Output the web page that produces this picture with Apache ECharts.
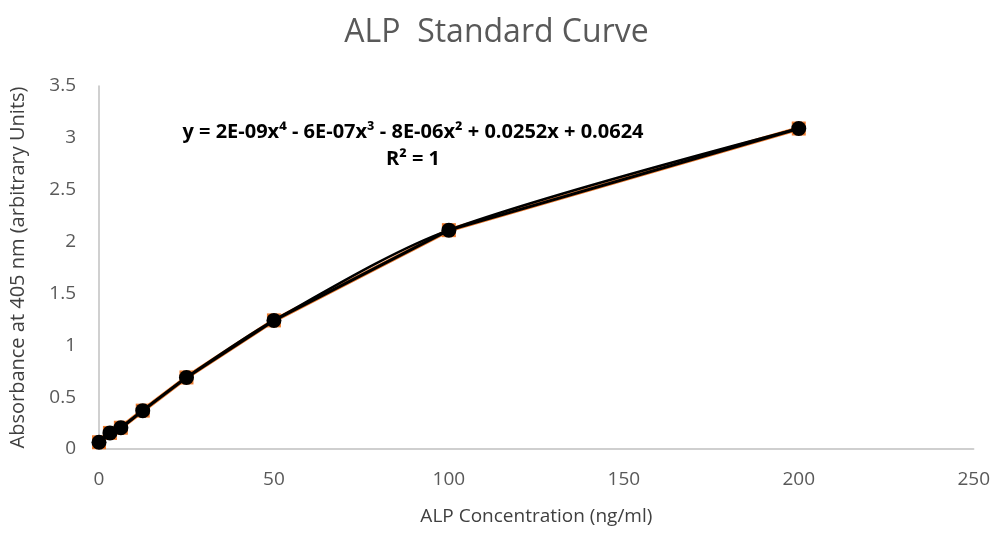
<!DOCTYPE html>
<html>
<head>
<meta charset="utf-8">
<script src="https://cdn.jsdelivr.net/npm/echarts@6/dist/echarts.min.js"></script>
<style>html,body{margin:0;padding:0;background:#fff}#c{width:993px;height:533px}</style>
</head>
<body>
<div id="c"></div>
<script>
const concentrations = [0, 3.125, 6.25, 12.5, 25, 50, 100, 200];
const absorbance = [0.065, 0.155, 0.205, 0.37, 0.69, 1.24, 2.11, 3.09];
const xTicks = [0, 50, 100, 150, 200, 250];
const yTicks = [0, 0.5, 1, 1.5, 2, 2.5, 3, 3.5];
const equationText = 'y = 2E-09x⁴ - 6E-07x³ - 8E-06x² + 0.0252x + 0.0624';
const r2Text = 'R² = 1';

const pts = concentrations.map((x, i) => [x, absorbance[i]]);
const chart = echarts.init(document.getElementById('c'));
const font = '"Open Sans", "Liberation Sans", sans-serif';
chart.setOption({
  animation: false,
  title: {
    text: 'ALP  Standard Curve',
    left: 'center',
    top: 12,
    textStyle: {fontFamily: font, fontSize: 32, fontWeight: 'normal', color: '#595959'}
  },
  grid: {left: 97, right: 19, top: 86, bottom: 84},
  xAxis: {
    type: 'value', min: 0, max: 250, interval: 50,
    name: 'ALP Concentration (ng/ml)', nameLocation: 'middle', nameGap: 58,
    nameTextStyle: {fontFamily: font, fontSize: 19, color: '#404040'},
    axisLine: {show: true, lineStyle: {color: '#c0c0c0', width: 1.5}},
    axisTick: {show: false},
    splitLine: {show: false},
    axisLabel: {fontFamily: font, fontSize: 19, color: '#595959', margin: 21}
  },
  yAxis: {
    type: 'value', min: 0, max: 3.5, interval: 0.5,
    name: 'Absorbance at 405 nm (arbitrary Units)', nameLocation: 'middle', nameGap: 71,
    nameTextStyle: {fontFamily: font, fontSize: 20, color: '#404040'},
    axisLine: {show: true, lineStyle: {color: '#c0c0c0', width: 1.5}},
    axisTick: {show: false},
    splitLine: {show: false},
    axisLabel: {fontFamily: font, fontSize: 19, color: '#595959', margin: 23}
  },
  graphic: [{
    type: 'text', x: 413, y: 119,
    style: {text: equationText + '\n' + r2Text, textAlign: 'center',
      fontFamily: 'Open Sans', fontSize: 20, fontWeight: 'bold', fill: '#000', lineHeight: 27}
  }],
  series: [
    {type: 'line', data: pts, symbol: 'rect', symbolSize: 14,
     itemStyle: {color: '#ED7D31'}, lineStyle: {color: '#ED7D31', width: 4.5}, z: 1},
    {type: 'line', data: pts, symbol: 'circle', symbolSize: 15,
     itemStyle: {color: '#000'}, lineStyle: {color: '#000', width: 3}, z: 3},
    {type: 'line', data: pts, smooth: 0.3, symbol: 'none',
     lineStyle: {color: '#000', width: 2.5}, z: 2}
  ]
});
</script>
</body>
</html>
